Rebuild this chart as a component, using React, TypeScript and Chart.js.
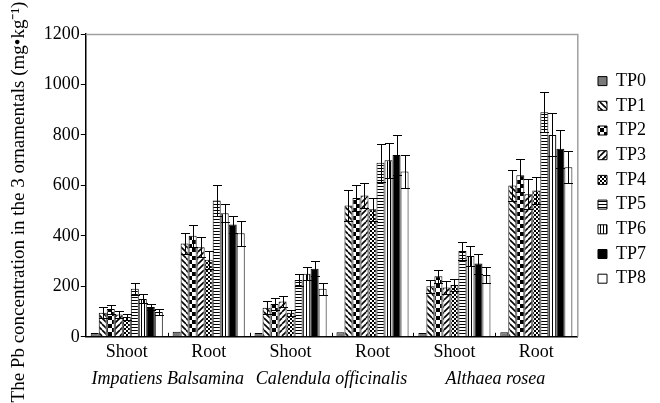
import React, { useEffect, useRef } from 'react';
import { Chart, registerables } from 'chart.js';

Chart.register(...registerables);

const categories = ['Shoot', 'Root', 'Shoot', 'Root', 'Shoot', 'Root'];
const species = ['Impatiens Balsamina', 'Calendula officinalis', 'Althaea rosea'];
const seriesNames = ['TP0', 'TP1', 'TP2', 'TP3', 'TP4', 'TP5', 'TP6', 'TP7', 'TP8'];
const yMin = 0;
const yMax = 1200;
const yStep = 200;

const TP0 = [15, 20, 15, 18, 15, 18];
const TP1 = [95, 370, 115, 520, 200, 600];
const TP2 = [110, 400, 130, 550, 240, 640];
const TP3 = [88, 355, 140, 560, 195, 565];
const TP4 = [78, 305, 95, 505, 205, 580];
const TP5 = [190, 540, 225, 690, 340, 890];
const TP6 = [150, 490, 250, 700, 320, 800];
const TP7 = [118, 445, 270, 720, 290, 745];
const TP8 = [98, 410, 190, 655, 245, 672];

const TP0err = [0, 0, 0, 0, 0, 0];
const TP1err = [22, 40, 25, 60, 25, 60];
const TP2err = [18, 45, 22, 50, 25, 65];
const TP3err = [15, 40, 22, 50, 25, 60];
const TP4err = [12, 35, 12, 45, 25, 55];
const TP5err = [25, 60, 25, 75, 35, 80];
const TP6err = [18, 35, 25, 70, 40, 85];
const TP7err = [12, 35, 30, 80, 40, 75];
const TP8err = [12, 50, 25, 65, 30, 64];

const seriesValues = [TP0, TP1, TP2, TP3, TP4, TP5, TP6, TP7, TP8];
const seriesErrors = [TP0err, TP1err, TP2err, TP3err, TP4err, TP5err, TP6err, TP7err, TP8err];
const patternKinds = ['gray', 'back', 'checker4', 'fwd', 'checker2', 'hlines', 'vlines', 'black', 'white'];

const yTitle = 'The Pb concentration in the 3 ornamentals (mg•kg⁻¹)';
const FONT = "'Liberation Serif', 'Times New Roman', serif";
const W = 660;
const H = 403;

function makePattern(kind: string): any {
  if (kind === 'gray') return '#7a7a7a';
  if (kind === 'black') return '#000000';
  if (kind === 'white') return '#ffffff';
  const c = document.createElement('canvas');
  const g = c.getContext('2d') as CanvasRenderingContext2D;
  let s = 6;
  if (kind === 'checker4') s = 8;
  if (kind === 'checker2') s = 4;
  if (kind === 'hlines') s = 3;
  if (kind === 'vlines') s = 3;
  c.width = s;
  c.height = s;
  g.fillStyle = '#fff';
  g.fillRect(0, 0, s, s);
  g.fillStyle = '#000';
  g.strokeStyle = '#000';
  if (kind === 'back' || kind === 'fwd') {
    g.lineWidth = 1.6;
    for (const o of [-s, 0, s]) {
      g.beginPath();
      if (kind === 'back') {
        g.moveTo(o, 0);
        g.lineTo(o + s, s);
      } else {
        g.moveTo(o, s);
        g.lineTo(o + s, 0);
      }
      g.stroke();
    }
  } else if (kind === 'checker4') {
    g.fillRect(0, 0, 4, 4);
    g.fillRect(4, 4, 4, 4);
  } else if (kind === 'checker2') {
    g.fillRect(0, 0, 2, 2);
    g.fillRect(2, 2, 2, 2);
  } else if (kind === 'hlines') {
    g.fillRect(0, 0, s, 1);
  } else if (kind === 'vlines') {
    g.fillRect(0, 0, 1, s);
  }
  const p = g.createPattern(c, 'repeat');
  return p || '#888';
}

const legendPlacePlugin = {
  id: 'legendPlace',
  afterLayout(chart: any) {
    const lg = chart.legend;
    const a = chart.chartArea;
    if (!lg) return;
    const gap = 14;
    lg.left = a.right + gap;
    lg.right = lg.left + lg.width;
    lg.top = a.top;
    lg.bottom = a.bottom - 11;
  },
};

const extrasPlugin = {
  id: 'extras',
  afterDatasetsDraw(chart: any) {
    const ctx = chart.ctx;
    const y = chart.scales.y;
    const x = chart.scales.x;
    const a = chart.chartArea;
    ctx.save();
    ctx.strokeStyle = '#000';
    ctx.lineWidth = 1;
    chart.data.datasets.forEach((ds: any, di: number) => {
      const meta = chart.getDatasetMeta(di);
      const errs = ds.errors || [];
      meta.data.forEach((bar: any, i: number) => {
        const e = errs[i];
        if (!e) return;
        const v = ds.data[i];
        const bx = Math.round(bar.x) + 0.5;
        const yt = Math.round(y.getPixelForValue(v + e)) + 0.5;
        const yb = Math.round(y.getPixelForValue(v - e)) + 0.5;
        const hw = Math.max(3, bar.width / 2 + 0.5);
        ctx.beginPath();
        ctx.moveTo(bx, yt);
        ctx.lineTo(bx, yb);
        ctx.moveTo(bx - hw, yt);
        ctx.lineTo(bx + hw, yt);
        ctx.moveTo(bx - hw, yb);
        ctx.lineTo(bx + hw, yb);
        ctx.stroke();
      });
    });
    const n = categories.length;
    for (let i = 1; i < n; i++) {
      const px = Math.round((x.getPixelForValue(i - 1) + x.getPixelForValue(i)) / 2) + 0.5;
      ctx.beginPath();
      ctx.moveTo(px, a.bottom);
      ctx.lineTo(px, a.bottom - 4);
      ctx.stroke();
    }
    ctx.strokeStyle = '#a0a0a0';
    ctx.lineWidth = 1.5;
    ctx.beginPath();
    ctx.moveTo(a.left, a.top + 0.5);
    ctx.lineTo(a.right + 0.5, a.top + 0.5);
    ctx.lineTo(a.right + 0.5, a.bottom);
    ctx.stroke();
    ctx.restore();
  },
};

export default function App() {
  const ref = useRef<HTMLCanvasElement | null>(null);
  useEffect(() => {
    if (!ref.current) return;
    const datasets = seriesNames.map((name, i) => ({
      label: name,
      data: seriesValues[i],
      errors: seriesErrors[i],
      backgroundColor: makePattern(patternKinds[i]),
      borderColor: '#000',
      borderWidth: 1,
      categoryPercentage: 0.88,
      barPercentage: 1.0,
      xAxisID: 'x',
    }));
    const chart = new Chart(ref.current, {
      type: 'bar',
      data: { labels: categories, datasets: datasets as any },
      plugins: [legendPlacePlugin, extrasPlugin],
      options: {
        animation: false,
        responsive: false,
        maintainAspectRatio: false,
        layout: { padding: { top: 34, bottom: 13, left: 8, right: 18 } },
        plugins: {
          tooltip: { enabled: false },
          legend: {
            position: 'right',
            labels: {
              boxWidth: 9,
              boxHeight: 9,
              padding: 6.7,
              color: '#000',
              font: { family: FONT, size: 18 },
            },
          },
        },
        scales: {
          x: {
            position: 'bottom',
            offset: true,
            grid: { display: false, drawTicks: false },
            border: { display: true, color: '#000', width: 1.5 },
            ticks: { color: '#000', padding: 5, font: { family: FONT, size: 18 } },
          },
          x2: {
            type: 'category',
            position: 'bottom',
            labels: species,
            offset: true,
            grid: { display: false, drawTicks: false },
            border: { display: false },
            ticks: { color: '#000', padding: 0, font: { family: FONT, size: 18, style: 'italic' } },
          },
          y: {
            min: yMin,
            max: yMax,
            grid: { drawOnChartArea: false, tickLength: 5, color: '#000' },
            border: { display: true, color: '#000', width: 1.5 },
            ticks: {
              stepSize: yStep,
              color: '#000',
              padding: 1,
              font: { family: FONT, size: 18 },
              callback: (v: any) => String(v),
            },
            title: {
              display: true,
              text: yTitle + '\u00A0\u00A0\u00A0\u00A0\u00A0\u00A0\u00A0',
              color: '#000',
              font: { family: FONT, size: 19 },
              padding: { top: 0, bottom: 12 },
            },
          },
        },
      } as any,
    });
    return () => chart.destroy();
  }, []);
  return (
    <div style={{ position: 'absolute', left: 0, top: 0, width: W, height: H }}>
      <canvas ref={ref} width={W} height={H} style={{ display: 'block', width: W, height: H }} />
    </div>
  );
}
